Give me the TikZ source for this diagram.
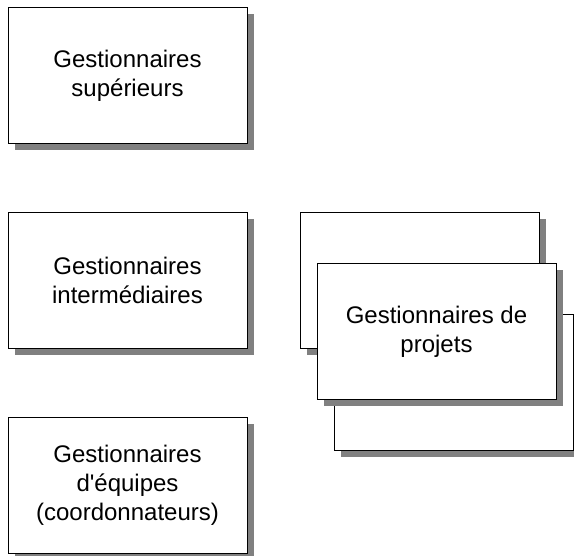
\documentclass[tikz,border=0pt]{standalone}
\usepackage{fontspec}
\setmainfont{Liberation Sans}
\usetikzlibrary{positioning,calc,shadows}
\tikzset{
  rolebox/.style={draw=black,line width=1pt,fill=white,minimum width=239pt,
    minimum height=136pt,inner sep=2pt,align=center,
    font=\fontsize{24}{29}\selectfont,
    drop shadow={shadow xshift=7pt,shadow yshift=-7pt,fill=black!50,opacity=1}},
}
\begin{document}
\begin{tikzpicture}[x=1pt,y=-1pt]
  \useasboundingbox (0,0) rectangle (574,556);
  % colonne de gauche
  \node[rolebox] (sup) at (127.5,75.5) {Gestionnaires\\ supérieurs};
  \node[rolebox,below=68pt of sup] (inter) {Gestionnaires\\ intermédiaires};
  \node[rolebox,below=68pt of inter] (equipe)
    {Gestionnaires\\ d\textquotesingle équipes\\ (coordonnateurs)};
  % pile des gestionnaires de projets
  \node[rolebox,right=52pt of inter] (projback) {};
  \node[rolebox] (projbottom) at ($(projback)+(34,102)$) {};
  \node[rolebox] (projfront) at ($(projback)+(17,51)$)
    {Gestionnaires de\\ projets};
\end{tikzpicture}
\end{document}
